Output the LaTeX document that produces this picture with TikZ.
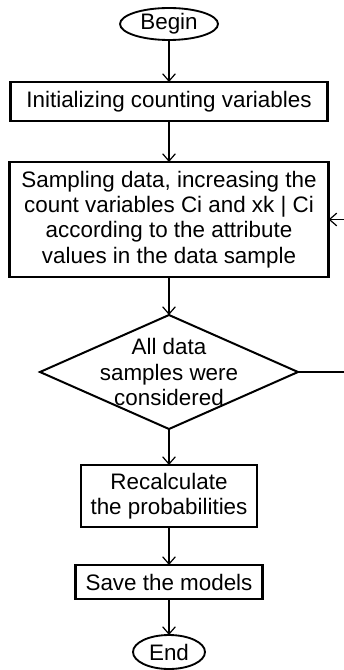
\documentclass[tikz,border=0pt]{standalone}
\usepackage{fontspec}
\setmainfont{Liberation Sans}
\usetikzlibrary{positioning,shapes.geometric,arrows.meta}

\begin{document}
\begin{tikzpicture}[
    font=\fontsize{16.8pt}{19pt}\selectfont,
    terminal/.style={ellipse, draw, line width=1.4pt, inner sep=0pt, outer sep=0pt},
    process/.style={rectangle, draw, line width=1.6pt, align=center, inner sep=0pt, outer sep=0pt},
    decision/.style={diamond, draw, line width=1.5pt, align=center, aspect=2.26, outer sep=0pt,
        inner xsep=-8pt, inner ysep=-6pt, minimum width=193.5pt, minimum height=85.5pt},
    flow/.style={-{Straight Barb[length=5.5pt,width=9.5pt]}, line width=0.9pt}
]
    \useasboundingbox (0,0) rectangle (257.25pt,-502.5pt);

    \node[terminal, minimum width=73.5pt, minimum height=24pt] (begin) at (126.75pt,-18pt) {Begin};
    \node[process, below=31.5pt of begin, minimum width=237.75pt, minimum height=29.25pt] (init)
        {Initializing counting variables};
    \node[process, below=30.75pt of init, minimum width=239.25pt, minimum height=86.25pt] (sampling)
        {Sampling data, increasing the\\count variables Ci and xk | Ci\\according to the attribute\\values in the data sample};
    \node[decision, below=28.5pt of sampling] (check) {All data\\samples were\\considered};
    \node[process, below=27pt of check, minimum width=132pt, minimum height=46.5pt] (recalc)
        {Recalculate\\the probabilities};
    \node[process, below=28.5pt of recalc, minimum width=140.25pt, minimum height=25.5pt] (save)
        {Save the models};
    \node[terminal, below=27pt of save, minimum width=54pt, minimum height=25.5pt] (finish) {End};

    \coordinate (loopR) at (259.5pt,0);

    \draw[flow] (begin) -- (init);
    \draw[flow] (init) -- (sampling);
    \draw[flow] (sampling) -- (check);
    \draw[flow] (check) -- (recalc);
    \draw[flow] (recalc) -- (save);
    \draw[flow] (save) -- (finish);
    % loop back when samples remain
    \draw[flow] (check.east) -- (check.east -| loopR) |- (sampling.east);
\end{tikzpicture}
\end{document}
